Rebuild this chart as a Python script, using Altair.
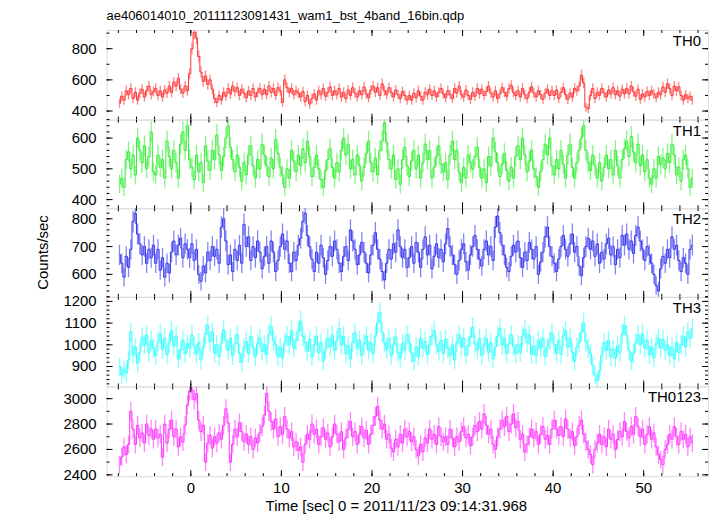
import altair as alt
import numpy as np
import pandas as pd

# ---------------- data (count rate per 0.25 s bin) ----------------
T_START = -7.875   # centre of first bin [sec]
T_BIN = 0.25       # bin width [sec]

th0 = [
    450, 495, 470, 530, 505, 545, 480, 520, 470, 515, 540, 490, 530, 560, 505, 525,
    545, 500, 530, 490, 535, 515, 560, 520, 585, 560, 610, 540, 515, 560, 530, 640,
    800, 905, 870, 750, 650, 590, 625, 570, 600, 540, 480, 455, 500, 470, 520, 495,
    545, 510, 560, 525, 550, 500, 540, 515, 485, 530, 500, 545, 490, 520, 545, 505,
    540, 505, 560, 520, 545, 500, 550, 530, 455, 600, 550, 520, 545, 505, 530, 515,
    490, 525, 460, 500, 445, 480, 510, 470, 530, 505, 545, 495, 520, 555, 500, 530,
    505, 545, 490, 520, 480, 535, 500, 550, 515, 490, 530, 505, 555, 510, 485, 535,
    560, 520, 550, 500, 575, 530, 505, 550, 520, 490, 535, 505, 480, 525, 500, 470,
    500, 470, 515, 485, 530, 495, 470, 520, 505, 540, 500, 530, 490, 520, 545, 510,
    485, 530, 505, 480, 545, 515, 560, 505, 490, 535, 500, 475, 520, 495, 545, 510,
    540, 500, 525, 560, 515, 490, 530, 480, 510, 550, 520, 495, 545, 565, 520, 500,
    530, 490, 545, 505, 480, 520, 555, 515, 490, 530, 505, 475, 515, 540, 500, 530,
    500, 535, 480, 520, 550, 505, 475, 515, 490, 545, 530, 560, 630, 580, 425, 415,
    500, 545, 480, 520, 500, 545, 515, 490, 535, 510, 550, 505, 530, 495, 540, 510,
    545, 510, 560, 525, 495, 540, 475, 510, 490, 525, 500, 530, 510, 485, 520, 505,
    555, 520, 575, 545, 500, 560, 530, 555, 500, 470, 505, 480, 495, 470,
]

th1 = [
    450, 470, 440, 530, 555, 500, 545, 480, 600, 560, 520, 575, 500, 540, 620, 490,
    480, 545, 505, 530, 470, 590, 540, 500, 560, 520, 470, 580, 620, 560, 640, 530,
    505, 465, 545, 490, 520, 455, 575, 525, 495, 560, 530, 610, 545, 495, 540, 600,
    640, 570, 530, 490, 545, 505, 460, 520, 480, 545, 575, 510, 470, 530, 500, 580,
    545, 510, 475, 535, 500, 595, 550, 505, 480, 440, 500, 470, 560, 525, 490, 545,
    510, 565, 520, 590, 540, 475, 505, 545, 500, 465, 440, 495, 530, 565, 505, 470,
    520, 490, 560, 600, 545, 580, 500, 530, 480, 545, 510, 460, 505, 550, 590, 520,
    490, 535, 480, 560, 590, 650, 585, 530, 500, 545, 465, 500, 450, 530, 570, 510,
    475, 525, 560, 500, 545, 470, 520, 580, 530, 560, 470, 505, 540, 575, 515, 490,
    520, 465, 545, 590, 530, 560, 490, 455, 505, 470, 545, 520, 500, 540, 570, 505,
    470, 500, 455, 540, 510, 600, 555, 520, 475, 515, 550, 495, 460, 505, 470, 540,
    575, 530, 600, 545, 490, 525, 560, 500, 475, 440, 490, 530, 580, 545, 600, 510,
    480, 530, 500, 560, 515, 470, 545, 580, 505, 470, 520, 560, 600, 640, 560, 520,
    495, 545, 510, 470, 520, 460, 505, 545, 500, 530, 480, 560, 510, 470, 530, 565,
    590, 540, 605, 555, 520, 580, 510, 545, 490, 530, 470, 450, 500, 470, 540, 515,
    535, 500, 550, 520, 580, 545, 480, 505, 460, 530, 545, 500, 440, 470,
]

th2 = [
    670, 640, 590, 665, 625, 690, 790, 820, 745, 710, 670, 700, 640, 690, 660, 705,
    640, 690, 615, 660, 590, 640, 605, 680, 720, 670, 705, 730, 660, 710, 690, 660,
    710, 650, 690, 600, 575, 630, 605, 680, 650, 700, 665, 690, 640, 770, 800, 720,
    635, 670, 610, 690, 650, 705, 640, 780, 700, 735, 650, 700, 660, 720, 680, 620,
    665, 700, 640, 720, 680, 610, 650, 700, 745, 690, 720, 640, 610, 680, 650, 705,
    730, 790, 820, 740, 700, 655, 610, 680, 640, 705, 660, 600, 650, 700, 665, 720,
    690, 640, 610, 665, 700, 650, 760, 720, 690, 635, 670, 715, 680, 640, 605, 670,
    705, 750, 690, 655, 610, 580, 640, 690, 655, 710, 680, 760, 700, 660, 690, 625,
    660, 700, 640, 715, 680, 625, 690, 735, 670, 705, 620, 665, 710, 660, 690, 645,
    710, 765, 700, 670, 635, 600, 650, 690, 710, 645, 615, 670, 700, 740, 690, 655,
    630, 690, 720, 670, 700, 650, 770, 810, 750, 705, 670, 625, 610, 665, 705, 680,
    720, 660, 625, 680, 650, 715, 690, 655, 700, 600, 645, 680, 735, 770, 700, 665,
    640, 610, 655, 700, 740, 690, 665, 710, 745, 680, 700, 630, 595, 660, 700, 730,
    690, 720, 665, 710, 640, 680, 655, 710, 730, 670, 700, 635, 690, 660, 740, 705,
    745, 690, 720, 675, 740, 770, 720, 690, 650, 700, 670, 640, 600, 560, 540, 620,
    665, 640, 690, 660, 735, 690, 705, 650, 610, 660, 640, 600, 690, 705,
]

th3 = [
    900, 860, 885, 870, 930, 1060, 955, 990, 915, 965, 1035, 1000, 1045, 965, 1020, 985,
    950, 1015, 1050, 980, 1030, 955, 1010, 1065, 995, 1040, 935, 975, 1020, 960, 1005, 985,
    1045, 995, 960, 1010, 930, 990, 1050, 1090, 1015, 1060, 960, 1000, 945, 1010, 1070, 1020,
    975, 1030, 950, 1005, 1045, 960, 920, 985, 1015, 960, 1040, 990, 945, 1005, 1030, 970,
    1000, 955, 1050, 1085, 1020, 1000, 945, 990, 940, 1010, 1040, 1000, 1065, 985, 1020, 1060,
    1110, 1040, 1010, 970, 1025, 945, 1000, 1040, 965, 1010, 925, 980, 1030, 990, 1045, 975,
    1020, 1075, 1000, 1040, 960, 995, 935, 1010, 1055, 985, 1020, 950, 1005, 1040, 975, 1010,
    960, 1040, 1100, 1150, 1060, 1010, 980, 1030, 950, 1000, 1035, 965, 940, 1005, 975, 1045,
    1010, 960, 925, 990, 945, 1030, 985, 1015, 955, 1000, 1040, 1065, 1000, 970, 1020, 960,
    1025, 985, 950, 1000, 930, 1010, 1045, 990, 1030, 950, 995, 1035, 1080, 1005, 975, 1030,
    950, 1000, 1030, 965, 1010, 935, 990, 1040, 1075, 1000, 1030, 960, 1005, 1045, 990, 960,
    1000, 965, 1040, 1070, 1010, 1045, 955, 995, 950, 1020, 985, 1030, 945, 990, 1020, 1055,
    1000, 960, 1020, 955, 1040, 1065, 990, 1030, 965, 925, 990, 1010, 1060, 1100, 1015, 985,
    960, 905, 860, 835, 880, 950, 1010, 975, 1020, 945, 980, 940, 995, 965, 1050, 1090,
    1045, 975, 925, 960, 1010, 1045, 1000, 1050, 985, 1020, 955, 990, 940, 1005, 1030, 985,
    1025, 975, 1000, 950, 990, 935, 1010, 965, 1000, 1040, 990, 1060, 1030, 1075,
]

th0123 = [
    2480, 2540, 2620, 2560, 2640, 2900, 2760, 2640, 2790, 2690, 2730, 2650, 2800, 2710, 2760, 2680,
    2760, 2690, 2720, 2540, 2800, 2650, 2760, 2830, 2700, 2760, 2620, 2700, 2660, 2790, 2950, 3060,
    3070, 2990, 3040, 2830, 2740, 2790, 2500, 2650, 2710, 2610, 2700, 2650, 2730, 2680, 2790, 2920,
    2810, 2500, 2640, 2760, 2700, 2810, 2740, 2660, 2720, 2640, 2700, 2600, 2690, 2650, 2730, 2780,
    2870, 3040, 2900, 2820, 2760, 2840, 2700, 2780, 2720, 2860, 2760, 2690, 2740, 2620, 2660, 2590,
    2620, 2500, 2640, 2720, 2680, 2800, 2720, 2760, 2640, 2700, 2770, 2680, 2730, 2620, 2700, 2800,
    2720, 2660, 2740, 2600, 2690, 2760, 2820, 2700, 2740, 2640, 2720, 2780, 2690, 2750, 2640, 2720,
    2790, 2860, 2940, 2830, 2760, 2800, 2680, 2720, 2610, 2580, 2680, 2620, 2720, 2650, 2760, 2700,
    2740, 2660, 2700, 2600, 2550, 2640, 2580, 2690, 2650, 2760, 2680, 2720, 2640, 2780, 2700, 2660,
    2700, 2640, 2760, 2690, 2620, 2700, 2660, 2740, 2780, 2690, 2720, 2630, 2700, 2790, 2740, 2820,
    2760, 2880, 2790, 2720, 2760, 2640, 2600, 2700, 2760, 2830, 2780, 2860, 2740, 2800, 2880, 2770,
    2820, 2680, 2720, 2580, 2640, 2700, 2760, 2690, 2740, 2640, 2720, 2780, 2680, 2710, 2640, 2760,
    2830, 2760, 2710, 2780, 2700, 2840, 2760, 2690, 2740, 2630, 2700, 2790, 2830, 2720, 2660, 2600,
    2560, 2480, 2600, 2650, 2720, 2640, 2700, 2620, 2760, 2680, 2720, 2600, 2680, 2740, 2700, 2820,
    2740, 2690, 2780, 2720, 2860, 2780, 2700, 2760, 2640, 2720, 2780, 2680, 2730, 2620, 2560, 2520,
    2480, 2600, 2640, 2720, 2680, 2780, 2700, 2640, 2740, 2680, 2720, 2620, 2700, 2650,
]

panel_names = ["TH0", "TH1", "TH2", "TH3", "TH0123"]
series = [th0, th1, th2, th3, th0123]
colors = ["#ff3333", "#33ee33", "#3333ee", "#33ffff", "#ff33ff"]
y_domains = [[345, 920], [372, 660], [519, 838], [808, 1221], [2390, 3096]]
y_major = [[400, 600, 800], [400, 500, 600], [600, 700, 800],
           [900, 1000, 1100, 1200], [2400, 2600, 2800, 3000]]
y_minor_step = [100, 20, 20, 20, 100]
x_major = [0, 10, 20, 30, 40, 50]
x_minor = list(range(-8, 57, 2))
x_domain = [-9.3, 57.1]
y_title = "Counts/sec"
x_title = "Time [sec] 0 = 2011/11/23 09:14:31.968"
file_title = "ae406014010_20111123091431_wam1_bst_4band_16bin.qdp"
panel_heights = [90, 89, 89, 90, 90]
PANEL_W = 604
MAJOR_LEN = 6
MINOR_LEN = 3

FONT = "Liberation Sans"


def minor_values(dom, step):
    lo = int(np.ceil(dom[0] / step) * step)
    return list(range(lo, int(dom[1]) + 1, step))


def inward_ticks(values, channel, scale, side, length, height):
    """Tick segments drawn inside the frame, placed through the panel's scale.
    Both ends of each segment are given, so the rule is a plain segment."""
    src = alt.Chart(pd.DataFrame({"v": values})).mark_rule(
        color="#000000", strokeWidth=1)
    if channel == "x":
        y0 = 0 if side == "top" else height
        y1 = length if side == "top" else height - length
        return src.encode(x=alt.X("v:Q", scale=scale, axis=None), x2="v:Q",
                          y=alt.value(y0), y2=alt.value(y1))
    x0 = 0 if side == "left" else PANEL_W
    x1 = length if side == "left" else PANEL_W - length
    return src.encode(y=alt.Y("v:Q", scale=scale, axis=None), y2="v:Q",
                      x=alt.value(x0), x2=alt.value(x1))


def panel(i):
    vals = series[i]
    h = panel_heights[i]
    df = pd.DataFrame({"t": T_START + T_BIN * np.arange(len(vals)), "rate": vals})
    base = alt.Chart(df).transform_calculate(
        lo="datum.rate - 1.4*sqrt(datum.rate)",
        hi="datum.rate + 1.4*sqrt(datum.rate)",
    )
    last = i == len(series) - 1
    xs = alt.Scale(domain=x_domain, nice=False, zero=False)
    ys = alt.Scale(domain=y_domains[i], nice=False, zero=False)
    ymin = minor_values(y_domains[i], y_minor_step[i])
    col = colors[i]

    err = base.mark_rule(color=col, opacity=0.6, strokeWidth=1.3, clip=True).encode(
        x=alt.X("t:Q", scale=xs, axis=None),
        y=alt.Y("lo:Q", scale=ys, axis=None),
        y2="hi:Q",
    )
    line = base.mark_line(interpolate="step", color=col, strokeWidth=1, clip=True).encode(
        x=alt.X("t:Q", scale=xs, axis=None),
        y=alt.Y("rate:Q", scale=ys, axis=None),
    )
    layers = [err, line]
    for side in ("top", "bottom"):
        layers.append(inward_ticks(x_minor, "x", xs, side, MINOR_LEN, h))
        layers.append(inward_ticks(x_major, "x", xs, side, MAJOR_LEN, h))
    for side in ("left", "right"):
        layers.append(inward_ticks(ymin, "y", ys, side, MINOR_LEN, h))
        layers.append(inward_ticks(y_major[i], "y", ys, side, MAJOR_LEN, h))

    # tick labels of the value axis, placed through the y scale
    layers.append(alt.Chart(pd.DataFrame({"v": y_major[i]})).mark_text(
        align="right", baseline="middle", font=FONT, fontSize=15, color="black"
    ).encode(y=alt.Y("v:Q", scale=ys, axis=None),
             text=alt.Text("v:Q", format="d"), x=alt.value(-10)))

    layers.append(alt.Chart(pd.DataFrame({"name": [panel_names[i]]})).mark_text(
        align="right", baseline="top", font=FONT, fontSize=15, color="black"
    ).encode(text="name:N", x=alt.value(PANEL_W - 7), y=alt.value(4)))

    if i == 2:
        layers.append(alt.Chart(pd.DataFrame({"name": [y_title]})).mark_text(
            angle=270, align="center", baseline="middle", font=FONT, fontSize=15,
            color="black"
        ).encode(text="name:N", x=alt.value(-64), y=alt.value(h / 2)))

    if last:
        layers.append(alt.Chart(pd.DataFrame({"v": x_major})).mark_text(
            align="center", baseline="top", font=FONT, fontSize=15, color="black"
        ).encode(x=alt.X("v:Q", scale=xs, axis=None),
                 text=alt.Text("v:Q", format="d"), y=alt.value(h + 5)))
        layers.append(alt.Chart(pd.DataFrame({"name": [x_title]})).mark_text(
            align="center", baseline="alphabetic", font=FONT, fontSize=15,
            color="black"
        ).encode(text="name:N", x=alt.value(291), y=alt.value(h + 35)))

    ch = alt.layer(*layers).properties(width=PANEL_W, height=h)
    if i == 0:
        ch = ch.properties(title=alt.TitleParams(
            text=file_title, anchor="start", frame="group", font=FONT,
            fontSize=13, fontWeight="normal", color="black", offset=7))
    return ch


chart = alt.vconcat(*[panel(i) for i in range(len(series))], spacing=0,
                    bounds="flush").properties(
    padding={"left": 27, "top": 0, "right": 0, "bottom": 0}
).configure_view(stroke="black", strokeWidth=1.2).configure(background="white")

chart.save("out.html", embed_options={"renderer": "svg", "actions": False})
